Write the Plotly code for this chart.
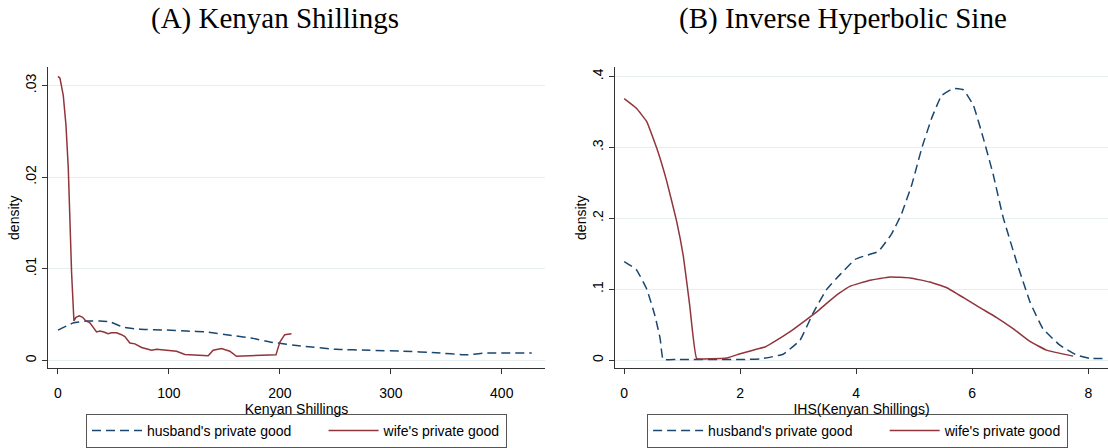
import plotly.graph_objects as go

# ---- Panel A: Kenyan Shillings ----
a_h_x = [0, 14, 26, 38, 47, 59, 74, 98, 116, 134, 158, 176, 191, 221, 251, 281, 311, 341, 368, 386, 427]
a_h_y = [0.0033, 0.0041, 0.0043, 0.0043, 0.0042, 0.0036, 0.0034, 0.0033, 0.0032, 0.0031, 0.0027,
         0.0024, 0.0020, 0.00154, 0.0012, 0.0011, 0.0010, 0.00083, 0.0006, 0.0008, 0.0008]

a_w_x = [0, 1.8, 4.8, 7.2, 9.3, 10.8, 12.3, 14.4, 16.2, 19.2, 22.2, 25.2, 28.8, 34.8, 37.8, 41.4, 45.2,
         48.3, 52.8, 57.3, 60.3, 64.8, 69.4, 75.4, 84.4, 88.9, 99.4, 106.9, 114.4, 124.9, 135.4, 139.9,
         147.4, 154.9, 160.9, 172.9, 193.9, 196.5, 200, 204.4, 210.5]
a_w_y = [0.0310, 0.0308, 0.0289, 0.0257, 0.0210, 0.0149, 0.0095, 0.0043, 0.0047, 0.00485, 0.0047,
         0.0043, 0.0041, 0.0031, 0.0032, 0.0031, 0.0029, 0.0030, 0.0030, 0.0028, 0.0026, 0.0019,
         0.0018, 0.0014, 0.0011, 0.0012, 0.0011, 0.0010, 0.00065, 0.0006, 0.0005, 0.0011, 0.0013,
         0.0010, 0.00045, 0.0005, 0.0006, 0.0006, 0.0020, 0.0028, 0.0029]

a_yticks = [0, 0.01, 0.02, 0.03]
a_yticklabels = ["0", ".01", ".02", ".03"]
a_xticks = [0, 100, 200, 300, 400]

# ---- Panel B: Inverse Hyperbolic Sine ----
b_h_x = [0, 0.21, 0.39, 0.53, 0.62, 0.67, 0.9, 2.1, 2.34, 2.74, 3.03, 3.26, 3.49, 3.72, 3.98, 4.15,
         4.38, 4.61, 4.78, 4.96, 5.13, 5.30, 5.47, 5.67, 5.85, 6.02, 6.19, 6.36, 6.53, 6.77, 7.0,
         7.22, 7.51, 7.80, 8.03, 8.32]
b_h_y = [0.139, 0.1275, 0.0997, 0.0626, 0.030, 0.001, 0.001, 0.001, 0.0015, 0.0083, 0.028, 0.067,
         0.0997, 0.1205, 0.142, 0.147, 0.153, 0.178, 0.206, 0.248, 0.299, 0.341, 0.373, 0.383, 0.381,
         0.359, 0.313, 0.262, 0.202, 0.137, 0.081, 0.044, 0.021, 0.007, 0.0023, 0.0023]

b_w_x = [0, 0.21, 0.39, 0.56, 0.73, 0.90, 1.02, 1.13, 1.25, 1.5, 1.77, 2.0, 2.22, 2.43, 2.63, 2.86,
         3.09, 3.32, 3.49, 3.72, 3.89, 4.24, 4.58, 4.93, 5.27, 5.56, 5.85, 6.13, 6.42, 6.71, 7.0,
         7.28, 7.74]
b_w_y = [0.3686, 0.355, 0.336, 0.299, 0.253, 0.197, 0.146, 0.0765, 0.002, 0.002, 0.003, 0.009,
         0.014, 0.0185, 0.028, 0.040, 0.054, 0.068, 0.080, 0.095, 0.104, 0.1127, 0.1173, 0.1159,
         0.110, 0.102, 0.088, 0.074, 0.060, 0.044, 0.026, 0.014, 0.0056]

b_yticks = [0, 0.1, 0.2, 0.3, 0.4]
b_yticklabels = ["0", ".1", ".2", ".3", ".4"]
b_xticks = [0, 2, 4, 6, 8]

H_NAME = "husband's private good"
W_NAME = "wife's private good"
H_COLOR = "#1a476f"
W_COLOR = "#90353b"
SANS = "Liberation Sans, Arial, Helvetica, sans-serif"
SERIF = "Liberation Serif, Times New Roman, serif"
GRID = "#e6eef0"
FS = 14
PAD = "\u00a0" * 7

fig = go.Figure()
fig.add_trace(go.Scatter(x=a_h_x, y=a_h_y, mode="lines", name=H_NAME + PAD, xaxis="x", yaxis="y",
                         line=dict(color=H_COLOR, width=1.5, dash="9px,5px", shape="spline", smoothing=0.3),
                         legend="legend"))
fig.add_trace(go.Scatter(x=a_w_x, y=a_w_y, mode="lines", name=W_NAME, xaxis="x", yaxis="y",
                         line=dict(color=W_COLOR, width=1.5),
                         legend="legend"))
fig.add_trace(go.Scatter(x=b_h_x, y=b_h_y, mode="lines", name=H_NAME + PAD, xaxis="x2", yaxis="y2",
                         line=dict(color=H_COLOR, width=1.5, dash="9px,5px", shape="spline", smoothing=0.3),
                         legend="legend2"))
fig.add_trace(go.Scatter(x=b_w_x, y=b_w_y, mode="lines", name=W_NAME, xaxis="x2", yaxis="y2",
                         line=dict(color=W_COLOR, width=1.5, shape="spline", smoothing=0.3),
                         legend="legend2"))

axis_common = dict(showline=True, linecolor="#333333", linewidth=1, ticks="outside", ticklen=5,
                   tickcolor="#333333", tickfont=dict(family=SANS, size=FS, color="black"),
                   zeroline=False, mirror=False)

fig.update_layout(
    width=1108, height=448,
    margin=dict(l=0, r=0, t=0, b=0),
    paper_bgcolor="white", plot_bgcolor="white",
    font=dict(family=SANS, size=FS, color="black"),
    xaxis=dict(domain=[0.0433, 0.4919], range=[-9, 439], tickvals=a_xticks, showgrid=False,
               anchor="y", ticklabelstandoff=7,
               title=dict(text="Kenyan Shillings", font=dict(family=SANS, size=FS), standoff=0),
               **axis_common),
    yaxis=dict(domain=[0.1667, 0.848], range=[-0.00087, 0.032], tickvals=a_yticks,
               ticktext=a_yticklabels, tickangle=-90, showgrid=True, gridcolor=GRID, gridwidth=1,
               anchor="x",
               title=dict(text="density", font=dict(family=SANS, size=FS), standoff=0),
               **axis_common),
    xaxis2=dict(domain=[0.555, 1.0], range=[-0.16, 8.34], tickvals=b_xticks, showgrid=False,
                anchor="y2", ticklabelstandoff=7,
                title=dict(text="IHS(Kenyan Shillings)", font=dict(family=SANS, size=FS), standoff=0),
                **axis_common),
    yaxis2=dict(domain=[0.1667, 0.848], range=[-0.0116, 0.413], tickvals=b_yticks,
                ticktext=b_yticklabels, tickangle=-90, showgrid=True, gridcolor=GRID, gridwidth=1,
                anchor="x2",
                title=dict(text="density", font=dict(family=SANS, size=FS), standoff=0),
                **axis_common),
    legend=dict(orientation="h", x=0.2676, xanchor="center", y=0.0625, yanchor="top",
                bordercolor="#555555", borderwidth=1, bgcolor="white",
                font=dict(family=SANS, size=FS), itemwidth=50, tracegroupgap=0),
    legend2=dict(orientation="h", x=0.7740, xanchor="center", y=0.0625, yanchor="top",
                 bordercolor="#555555", borderwidth=1, bgcolor="white",
                 font=dict(family=SANS, size=FS), itemwidth=50, tracegroupgap=0),
    annotations=[
        dict(text="(A) Kenyan Shillings", x=275 / 1108, y=1 - 19 / 448, xref="paper", yref="paper",
             xanchor="center", yanchor="middle", showarrow=False,
             font=dict(family=SERIF, size=29, color="black")),
        dict(text="(B) Inverse Hyperbolic Sine", x=843 / 1108, y=1 - 19 / 448, xref="paper",
             yref="paper", xanchor="center", yanchor="middle", showarrow=False,
             font=dict(family=SERIF, size=29, color="black")),
    ],
)

fig.write_html("out.html")
